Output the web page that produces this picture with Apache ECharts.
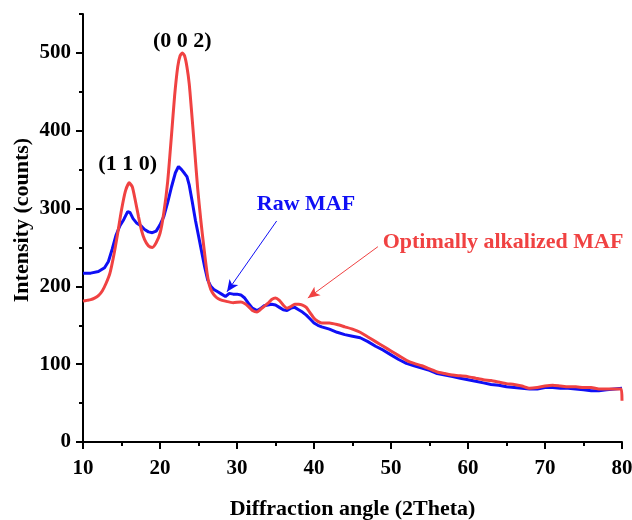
<!DOCTYPE html>
<html>
<head>
<meta charset="utf-8">
<script src="https://cdn.jsdelivr.net/npm/echarts@6/dist/echarts.min.js"></script>
<style>html,body{margin:0;padding:0;background:#fff}#c{width:632px;height:520px}</style>
</head>
<body>
<div id="c"></div>
<script>
// ---- data ----
const rawAngles = [10,11,12,12.8,13.3,13.8,14.3,14.8,15.3,15.8,16.1,16.5,17,17.5,18,18.5,19,19.5,20,20.5,21,21.5,22,22.4,22.8,23.2,23.5,23.8,24.2,24.6,25,25.4,25.8,26.2,26.6,27,27.5,28,28.5,29,29.5,30,30.5,31,31.5,32,32.6,33,33.5,34,34.5,35,35.5,36,36.5,37,37.5,38,38.5,39,39.5,40,40.5,41,42,43,44,45,46,47,48,49,50,51,52,53,54,55,56,57,58,59,60,61,62,63,64,65,66,67,68,69,70,71,72,73,74,75,76,77,78,79,80];
const rawIntensity = [217,217,219,224,232,248,266,278,286,296,295,287,281,278,273,270,269,271,279,290,308,328,346,354,350,345,341,330,308,285,265,245,225,208,200,196,193,190,187,191,190,190,189,185,178,172,169,171,175,176,177,176,173,170,169,172,173,170,167,163,158,153,150,148,145,141,138,136,134,129,123,118,112,106,101,98,95,92,88,86,84,82,80,78,76,74,73,71,70,69,68,68,70,70,69,69,68,67,66,66,67,68,69];

const alkAngles = [10,10.5,11,11.5,12,12.5,13,13.5,14,14.5,15,15.5,16,16.4,16.8,17.2,17.6,18,18.5,19,19.5,20,20.5,21,21.5,21.9,22.3,22.6,22.9,23.2,23.5,23.8,24.1,24.5,24.9,25.3,25.7,26.1,26.4,26.8,27.3,27.8,28.5,29.5,30.5,31,31.5,32,32.6,33,33.5,34,34.5,35,35.5,36,36.5,37,37.5,38,38.5,39,39.5,40,40.5,41,42,43,44,45,46,47,48,49,50,51,52,53,54,55,56,57,58,59,60,61,62,63,64,65,66,67,68,69,70,71,72,73,74,75,76,77,78,79,79.9,80];
const alkIntensity = [181,182,183,185,188,194,204,217,240,268,298,322,333,328,310,290,272,260,252,250,256,268,295,335,395,445,482,496,500,496,482,460,425,375,325,285,250,218,202,192,186,183,181,179,180,178,174,169,167,170,174,178,183,185,182,176,172,174,177,177,176,173,166,159,155,153,153,151,148,145,141,135,129,123,117,111,105,101,98,94,90,88,86,85,84,82,80,79,77,75,74,72,69,70,72,73,72,71,71,70,70,68,68,68,68,53];

const xTicks = [10,20,30,40,50,60,70,80];
const yTicks = [0,100,200,300,400,500];
const yMinorTicks = [50,150,250,350,450,550];

const seriesNames = ['Raw MAF','Optimally alkalized MAF'];
const peakLabels = ['(1 1 0)','(0 0 2)'];
const peakLabelPos = [[15.8,357],[22.9,515]];
const legendPos = [[38.96,306],[64.55,257]];
const arrowStart = [[35.15,284],[48.3,251]];
const arrowEnd = [[28.7,193],[39.2,185]];
const xTitle = 'Diffraction angle (2Theta)';
const yTitle = 'Intensity (counts)';

const BLUE = '#0f0ff5';
const RED = '#f04242';
const FONT = '"Liberation Serif","Times New Roman",serif';

function pairs(xs, ys){ return xs.map((x,i)=>[x, ys[i]]); }

const chart = echarts.init(document.getElementById('c'));
const axisCommon = {
  axisLine:{show:true,lineStyle:{color:'#000',width:2}},
  splitLine:{show:false}
};
chart.setOption({
  animation:false,
  backgroundColor:'#fff',
  grid:{left:83,right:10,top:14,bottom:78,containLabel:false,outerBoundsMode:'none'},
  xAxis:{
    type:'value',min:10,max:80,interval:10,
    name:xTitle,nameLocation:'middle',nameGap:56,
    nameTextStyle:{fontFamily:FONT,fontWeight:'bold',fontSize:22,color:'#000'},
    ...axisCommon,
    axisTick:{show:true,length:7,lineStyle:{color:'#000',width:2}},
    minorTick:{show:true,splitNumber:2,length:4,lineStyle:{color:'#000',width:2}},
    axisLabel:{fontFamily:FONT,fontWeight:'bold',fontSize:21,color:'#000',margin:16,
      customValues:xTicks}
  },
  yAxis:[{
    type:'value',min:0,max:550,interval:100,
    ...axisCommon,
    axisTick:{show:true,length:7,lineStyle:{color:'#000',width:2},customValues:yTicks},
    axisLabel:{fontFamily:FONT,fontWeight:'bold',fontSize:21,color:'#000',margin:12,customValues:yTicks}
  },{
    type:'value',min:0,max:550,interval:50,position:'left',
    axisLine:{show:false},splitLine:{show:false},
    axisTick:{show:true,length:4,lineStyle:{color:'#000',width:2},customValues:yMinorTicks},
    axisLabel:{show:false}
  }],
  series:[
    {name:seriesNames[0],type:'line',data:pairs(rawAngles,rawIntensity),showSymbol:false,
     lineStyle:{color:BLUE,width:3},itemStyle:{color:BLUE},z:2,
     markLine:{silent:true,symbol:['none','arrow'],symbolSize:[8,12],
       lineStyle:{color:BLUE,width:1,type:'solid'},label:{show:false},
       data:[[{coord:arrowStart[0]},{coord:arrowEnd[0]}]]}},
    {name:seriesNames[1],type:'line',data:pairs(alkAngles,alkIntensity),showSymbol:false,smooth:0.2,
     lineStyle:{color:RED,width:3},itemStyle:{color:RED},z:3,
     markLine:{silent:true,symbol:['none','arrow'],symbolSize:[8,12],
       lineStyle:{color:RED,width:1,type:'solid'},label:{show:false},
       data:[[{coord:arrowStart[1]},{coord:arrowEnd[1]}]]}}
  ]
});

function place(){
  const g = [];
  peakLabels.forEach((t,i)=>{
    const p = chart.convertToPixel({gridIndex:0}, peakLabelPos[i]);
    g.push({type:'text',x:p[0],y:p[1],style:{text:t,font:'bold 22px '+FONT,fill:'#000',align:'center',verticalAlign:'middle'}});
  });
  const cols=[BLUE,RED];
  seriesNames.forEach((t,i)=>{
    const p = chart.convertToPixel({gridIndex:0}, legendPos[i]);
    g.push({type:'text',x:p[0],y:p[1],style:{text:t,font:'bold 22px '+FONT,fill:cols[i],align:'center',verticalAlign:'middle'}});
  });
  g.push({type:'text',x:22,y:220,rotation:Math.PI/2,style:{text:yTitle,font:'bold 22px '+FONT,fill:'#000',align:'center',verticalAlign:'middle'}});
  chart.setOption({graphic:g});
}
place();
</script>
</body>
</html>
